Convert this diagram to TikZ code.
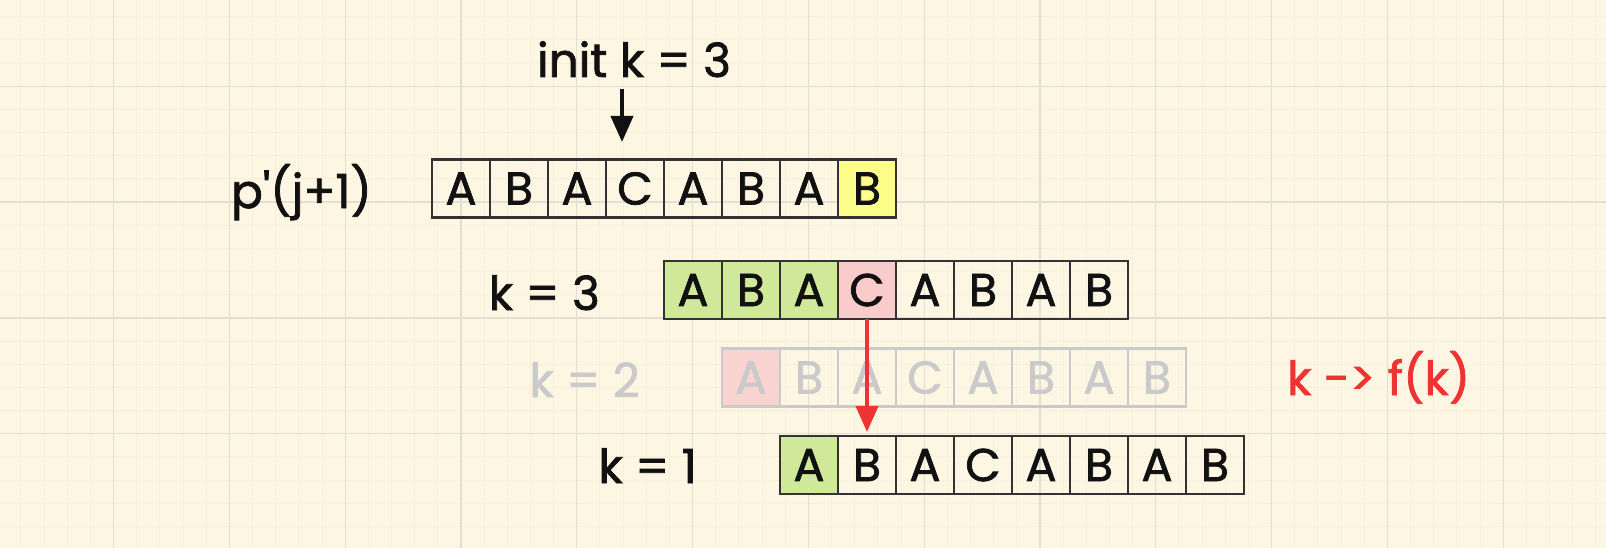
\documentclass[tikz,border=0pt]{standalone}
\usepackage{fontspec}
\setmainfont{Poppins}
\newfontfamily\handfont{Poppins}[FakeBold=1.6]
\usetikzlibrary{positioning, arrows.meta}
\definecolor{Paper}{HTML}{FDF6E3}
\definecolor{GridMajor}{HTML}{E2DED4}
\definecolor{GridMinor}{HTML}{F7EFDC}
\definecolor{Ink}{HTML}{111111}
\definecolor{Edge}{HTML}{333333}
\definecolor{Match}{HTML}{CFE89A}
\definecolor{Miss}{HTML}{F9CBCB}
\definecolor{Last}{HTML}{FDFD8A}
\definecolor{Faded}{HTML}{CACACA}
\definecolor{FadedMiss}{HTML}{F8D3D0}
\definecolor{Alert}{HTML}{EE3333}
\tikzset{
    cell/.style={rectangle, draw=Edge, line width=2.5pt, minimum size=58pt, inner sep=0pt, outer sep=0pt, text=Ink, font=\handfont\fontsize{46}{46}\selectfont},
    fadecell/.style={cell, draw=Faded, text=Faded},
    rowtag/.style={inner sep=0pt, anchor=base east, text=Ink, font=\handfont\fontsize{47}{47}\selectfont},
    pointer/.style={-{Triangle[width=22pt,length=26pt]}, line width=4pt},
}

\begin{document}
\begin{tikzpicture}[x=1pt, y=-1pt]
        \useasboundingbox (0,0) rectangle (1606,548);

        % --- Paper with grid ---
        \fill[Paper] (0,0) rectangle (1606,548);
        \foreach \n in {0,...,70} {
            \draw[GridMinor, line width=1pt] (\n*23.16-2.2,0) -- ++(0,548);
        }
        \foreach \n in {0,...,25} {
            \draw[GridMinor, line width=1pt] (0,\n*23.16-29.5) -- ++(1606,0);
        }
        \foreach \n in {0,...,14} {
            \draw[GridMajor, line width=1.2pt] (\n*115.8-2.2,0) -- ++(0,548);
        }
        \foreach \n in {0,...,5} {
            \draw[GridMajor, line width=1.2pt] (0,\n*115.8-29.5) -- ++(1606,0);
        }

        % --- Pattern p'(j+1) ---
        \foreach \ch/\bg [count=\i] in {A/none,B/none,A/none,C/none,A/none,B/none,A/none,B/Last} {
            \node[cell, fill=\bg] (top\i) at (432+\i*58-29,188.5) {\ch};
        }
        \node[rowtag] (ptag) at (372,208) {p\textquotesingle(j+1)};

        % init pointer
        \node[rowtag, anchor=base] (init) at (634,77) {init k = 3};
        \coordinate (ktip) at (622,142);
        \draw[pointer, Ink] ([yshift=-12pt]init.south -| ktip) -- (ktip);

        % --- k = 3 ---
        \foreach \ch/\bg [count=\i] in {A/Match,B/Match,A/Match,C/Miss,A/none,B/none,A/none,B/none} {
            \node[cell, fill=\bg] (kthree\i) at (664+\i*58-29,290) {\ch};
        }
        \node[rowtag] (tagthree) at (600,310) {k = 3};

        % --- k = 2 (faded) ---
        \foreach \ch/\bg [count=\i] in {A/FadedMiss,B/none,A/none,C/none,A/none,B/none,A/none,B/none} {
            \node[fadecell, fill=\bg] (ktwo\i) at (722+\i*58-29,377.5) {\ch};
        }
        \node[rowtag, text=Faded] (tagtwo) at (640,397) {k = 2};
        \node[rowtag, anchor=base west, text=Alert] (fk) at (1287,395) {k -> f(k)};

        % --- k = 1 ---
        \foreach \ch/\bg [count=\i] in {A/Match,B/none,A/none,C/none,A/none,B/none,A/none,B/none} {
            \node[cell, fill=\bg] (kone\i) at (780+\i*58-29,465) {\ch};
        }
        \node[rowtag] (tagone) at (697,483) {k = 1};

        % mismatch jump
        \draw[pointer, Alert, shorten >=4pt] (kthree4.south) -- (kone2.north);
\end{tikzpicture}
\end{document}
